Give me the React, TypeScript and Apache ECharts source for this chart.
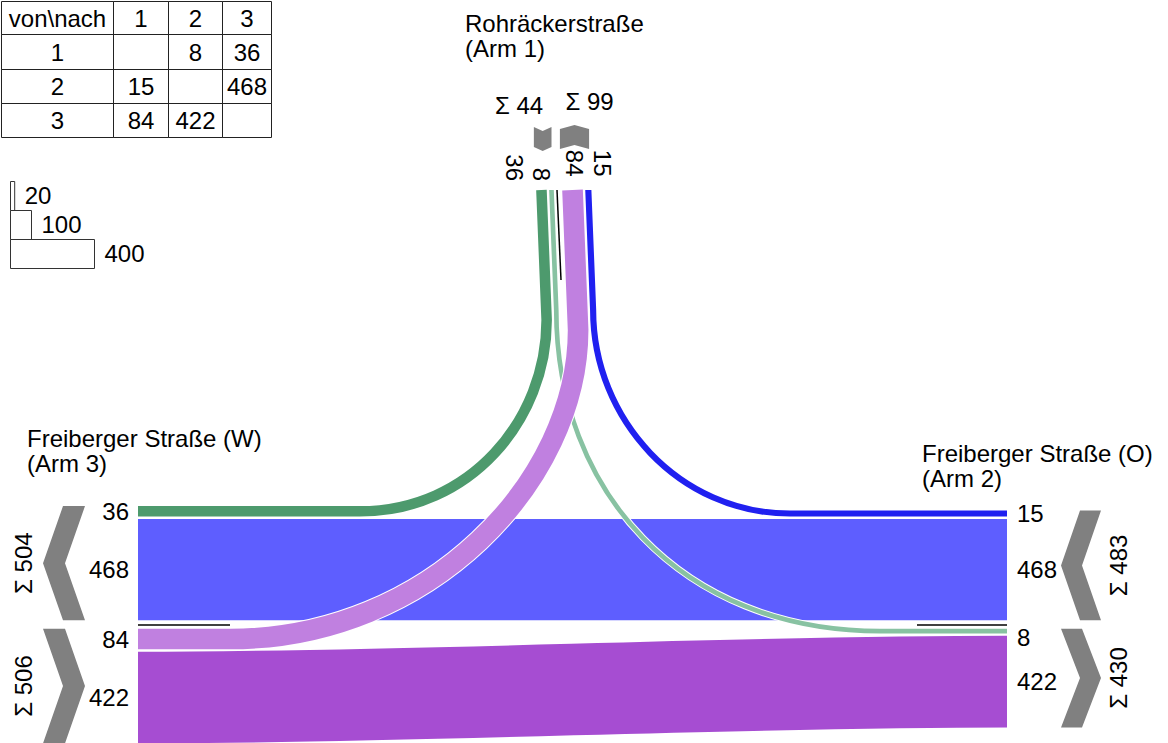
import React, { useEffect, useRef } from "react";
import * as echarts from "echarts";

// ---------- data ----------
const armIds = [1, 2, 3];
const armTitles = ["Rohräckerstraße\n(Arm 1)", "Freiberger Straße (O)\n(Arm 2)", "Freiberger Straße (W)\n(Arm 3)"];

// flows von -> nach (in drawing order, bottom to top)
const flowFrom = [2, 3, 1, 2, 1, 3];
const flowTo = [3, 2, 3, 1, 2, 1];
const flowValues = [468, 422, 36, 15, 8, 84];
const flowColors = ["#5E5EFF", "#A64DD2", "#4D9A6D", "#2020F0", "#88C2A2", "#C080E0"];

const legendValues = [20, 100, 400];
const tableCorner = "von\\nach";

// ---------- layout / style ----------
const W = 1168;
const H = 743;
const FONT = "'Liberation Sans', Arial, Helvetica, sans-serif";
const FS = 24;
const K = 0.21; // px per vehicle
const PAD = 3;
const GAP = 2.4;
const HALF_SEP = 4.2;
const W_X = 138;
const E_X = 1007;
const SEP_Y = 624.5;
const N_Y = 190;
const SEP_X = 558;
const TILT = 0.04;

const idx = (a: number, b: number) => flowFrom.findIndex((f, i) => f === a && flowTo[i] === b);
const bandW = (v: number) => v * K + PAD;

function stack(order: number[]) {
  let off = HALF_SEP;
  const centers: Record<number, number> = {};
  const rank: Record<number, number> = {};
  order.forEach((fi, r) => {
    const w = bandW(flowValues[fi]);
    centers[fi] = off + w / 2;
    rank[fi] = r;
    off += w + GAP;
  });
  return { centers, rank, inner: HALF_SEP, outer: off - GAP, order };
}

const groups: Record<string, any> = {
  N_from: stack([idx(1, 2), idx(1, 3)]),
  N_to: stack([idx(3, 1), idx(2, 1)]),
  E_from: stack([idx(2, 3), idx(2, 1)]),
  E_to: stack([idx(1, 2), idx(3, 2)]),
  W_to: stack([idx(2, 3), idx(1, 3)]),
  W_from: stack([idx(3, 1), idx(3, 2)]),
};
const groupKeys = ["N_from", "N_to", "E_from", "E_to", "W_to", "W_from"];

const northX = (fi: number) =>
  flowFrom[fi] === 1 ? SEP_X - groups.N_from.centers[fi] : SEP_X + groups.N_to.centers[fi];
const eastY = (fi: number) =>
  flowFrom[fi] === 2 ? SEP_Y - groups.E_from.centers[fi] : SEP_Y + groups.E_to.centers[fi];
const westY = (fi: number) =>
  flowTo[fi] === 3 ? SEP_Y - groups.W_to.centers[fi] : SEP_Y + groups.W_from.centers[fi];

// bend shape per turning flow: [y where bend starts, vertical handle, x where bend ends, horizontal handle]
const bends: Record<string, number[]> = {
  "1-3": [320, 100, 360, 110],
  "3-1": [330, 150, 230, 200],
  "1-2": [310, 180, 880, 200],
  "2-1": [310, 110, 790, 110],
};

function flowPath(fi: number, m: (x: number, y: number) => number[]) {
  const a = flowFrom[fi];
  const b = flowTo[fi];
  const pt = (x: number, y: number) => {
    const p = m(x, y);
    return p[0].toFixed(2) + " " + p[1].toFixed(2);
  };
  if (a !== 1 && b !== 1) {
    const yw = westY(fi);
    const ye = eastY(fi);
    const L = E_X - W_X;
    return `M${pt(W_X, yw)} C${pt(W_X + L / 3, yw)} ${pt(W_X + (2 * L) / 3, ye)} ${pt(E_X, ye)}`;
  }
  const other = a === 1 ? b : a;
  const [yb, ca, xB, cb] = bends[`${a}-${b}`];
  const xn = northX(fi);
  const xs = xn + TILT * (yb - N_Y);
  if (other === 3) {
    const yw = westY(fi);
    return `M${pt(xn, N_Y)} L${pt(xs, yb)} C${pt(xs, yb + ca)} ${pt(xB + cb, yw)} ${pt(xB, yw)} L${pt(W_X, yw)}`;
  }
  const ye = eastY(fi);
  return `M${pt(xn, N_Y)} L${pt(xs, yb)} C${pt(xs, yb + ca)} ${pt(xB - cb, ye)} ${pt(xB, ye)} L${pt(E_X, ye)}`;
}

const txt = (text: string, x: number, y: number, align: string, rotation = 0, vAlign = "middle") => ({
  type: "text",
  x,
  y,
  rotation,
  silent: true,
  style: { text, fontSize: FS, fontFamily: FONT, fill: "#000", align, verticalAlign: vAlign },
});

const clampLabel = (y: number) => (y < SEP_Y ? Math.min(y, SEP_Y - 13) : Math.max(y, SEP_Y + 13));

function renderFlow(params: any, api: any) {
  const fi = params.dataIndex;
  const m = (x: number, y: number) => api.coord([x, y]);
  const d = flowPath(fi, m);
  const lw = api.size([bandW(flowValues[fi]), 0])[0];
  const children: any[] = [
    { type: "path", shape: { pathData: d }, style: { fill: "none", stroke: "#ffffff", lineWidth: lw + 2 } },
    { type: "path", shape: { pathData: d }, style: { fill: "none", stroke: flowColors[fi], lineWidth: lw } },
  ];
  const a = flowFrom[fi];
  const b = flowTo[fi];
  const label = String(flowValues[fi]);
  if (a === 3 || b === 3) {
    const p = m(W_X - 9, clampLabel(westY(fi)));
    children.push(txt(label, p[0], p[1], "right"));
  }
  if (a === 2 || b === 2) {
    const p = m(E_X + 10, clampLabel(eastY(fi)));
    children.push(txt(label, p[0], p[1], "left"));
  }
  if (a === 1 || b === 1) {
    let p;
    if (a === 1) p = m(SEP_X - 17 - 27 * groups.N_from.rank[fi], 181);
    else p = m(SEP_X + 16 + 28 * groups.N_to.rank[fi], 176.5);
    children.push(txt(label, p[0], p[1], "right", -Math.PI / 2));
  }
  return { type: "group", children };
}

function groupSum(key: string) {
  return groups[key].order.reduce((s: number, fi: number) => s + flowValues[fi], 0);
}

function renderArm(params: any, api: any) {
  const key = groupKeys[params.dataIndex];
  const g = groups[key];
  const sum = "Σ " + groupSum(key);
  const m = (x: number, y: number) => api.coord([x, y]);
  const children: any[] = [];
  const poly = (pts: number[][]) => ({
    type: "polygon",
    shape: { points: pts.map((q) => m(q[0], q[1])) },
    style: { fill: "#808080" },
  });
  if (key[0] === "N") {
    const shift = -2.3;
    const x0 = key === "N_from" ? SEP_X - g.outer + shift : SEP_X + g.inner + shift;
    const x1 = key === "N_from" ? SEP_X - g.inner + shift : SEP_X + g.outer + shift;
    const xm = (x0 + x1) / 2;
    if (key === "N_from") {
      const ya = 127;
      children.push(poly([[x0, ya], [xm, ya + 4], [x1, ya], [x1, ya + 20], [xm, ya + 24], [x0, ya + 20]]));
      const p = m(xm + 0.5, 105);
      children.push(txt(sum, p[0], p[1], "right"));
    } else {
      const yb = 125;
      children.push(poly([[x0, yb + 4], [xm, yb], [x1, yb + 4], [x1, yb + 24], [xm, yb + 20], [x0, yb + 24]]));
      const p = m(x0 + 5.5, 101);
      children.push(txt(sum, p[0], p[1], "left"));
    }
  } else {
    const upper = key === "E_from" || key === "W_to";
    const y0 = upper ? SEP_Y - g.outer : SEP_Y + g.inner;
    const y1 = upper ? SEP_Y - g.inner : SEP_Y + g.outer;
    const ym = (y0 + y1) / 2;
    const isW = key[0] === "W";
    const xl = isW ? 43 : 1061;
    const t = isW ? 22 : 21;
    const dd = isW ? 20 : 19;
    const pointLeft = upper; // west: outgoing upper points left; east: incoming upper points left
    if (pointLeft) {
      children.push(poly([[xl + dd, y0], [xl + dd + t, y0], [xl + t, ym], [xl + dd + t, y1], [xl + dd, y1], [xl, ym]]));
    } else {
      children.push(poly([[xl, y0], [xl + t, y0], [xl + t + dd, ym], [xl + t, y1], [xl, y1], [xl + dd, ym]]));
    }
    const p = m(isW ? 23 : 1118.5, ym);
    children.push(txt(sum, p[0], p[1], "center", Math.PI / 2));
  }
  return { type: "group", children };
}

function renderLegend(params: any, api: any) {
  const i = params.dataIndex;
  const v = legendValues[i];
  const top = 181.5 + i * 29;
  const p = api.coord([10.5, top]);
  const w = api.size([v * K, 0])[0];
  const h = api.size([0, 29])[1];
  return {
    type: "group",
    children: [
      { type: "rect", shape: { x: p[0], y: p[1], width: w, height: h }, style: { fill: "#fff", stroke: "#333", lineWidth: 1 } },
      txt(String(v), p[0] + w + 10, p[1] + h / 2 - 0.5, "left"),
    ],
  };
}

function buildTable() {
  const colX = [1, 113, 168, 222, 271];
  const rowY = [1, 34, 69, 103, 137];
  const els: any[] = [];
  const cell = (r: number, c: number) => {
    if (r === 0 && c === 0) return tableCorner;
    if (r === 0) return String(armIds[c - 1]);
    if (c === 0) return String(armIds[r - 1]);
    const fi = idx(armIds[r - 1], armIds[c - 1]);
    return fi >= 0 ? String(flowValues[fi]) : "";
  };
  for (let r = 0; r < 4; r++) {
    for (let c = 0; c < 4; c++) {
      const x = colX[c] + 0.5;
      const y = rowY[r] + 0.5;
      const w = colX[c + 1] - colX[c];
      const h = rowY[r + 1] - rowY[r];
      els.push({
        type: "rect",
        shape: { x, y, width: w, height: h },
        style: { fill: "none", stroke: "#222", lineWidth: 1 },
        silent: true,
      });
      const t = cell(r, c);
      if (t) els.push(txt(t, x + w / 2, y + h / 2, "center"));
    }
  }
  return els;
}

function buildGraphic() {
  const els: any[] = buildTable();
  const titles = [
    { x: 465, y: 11 },
    { x: 922, y: 440.5 },
    { x: 27, y: 425.5 },
  ];
  armTitles.forEach((t, i) => {
    els.push({
      type: "text",
      x: titles[i].x,
      y: titles[i].y,
      silent: true,
      style: { text: t, fontSize: FS, fontFamily: FONT, fill: "#000", lineHeight: 25, align: "left", verticalAlign: "top" },
    });
  });
  const sep = (x1: number, y1: number, x2: number, y2: number) => ({
    type: "line",
    silent: true,
    shape: { x1, y1, x2, y2 },
    style: { stroke: "#000", lineWidth: 1.5 },
  });
  els.push(sep(W_X, SEP_Y + 0.5, 230, SEP_Y + 0.5));
  els.push(sep(917, SEP_Y + 0.5, E_X, SEP_Y + 0.5));
  els.push(sep(SEP_X - 1, N_Y, SEP_X + 3, 280));
  return els;
}

export default function App() {
  const ref = useRef<HTMLDivElement>(null);
  useEffect(() => {
    document.body.style.margin = "0";
    const chart = echarts.init(ref.current as HTMLDivElement, null, { renderer: "svg", width: W, height: H });
    chart.setOption({
      animation: false,
      backgroundColor: "#ffffff",
      grid: { left: 0, right: 0, top: 0, bottom: 0, containLabel: false },
      xAxis: { type: "value", min: 0, max: W, show: false },
      yAxis: { type: "value", min: 0, max: H, inverse: true, show: false },
      series: [
        {
          type: "custom",
          name: "flows",
          silent: true,
          renderItem: renderFlow,
          data: flowValues.map((v, i) => [i, v]),
        },
        {
          type: "custom",
          name: "arms",
          silent: true,
          renderItem: renderArm,
          data: groupKeys.map((k, i) => [i, groupSum(k)]),
        },
        {
          type: "custom",
          name: "legend",
          silent: true,
          renderItem: renderLegend,
          data: legendValues.map((v, i) => [i, v]),
        },
      ],
      graphic: buildGraphic(),
    });
    return () => chart.dispose();
  }, []);
  return <div ref={ref} style={{ width: W, height: H }} />;
}
